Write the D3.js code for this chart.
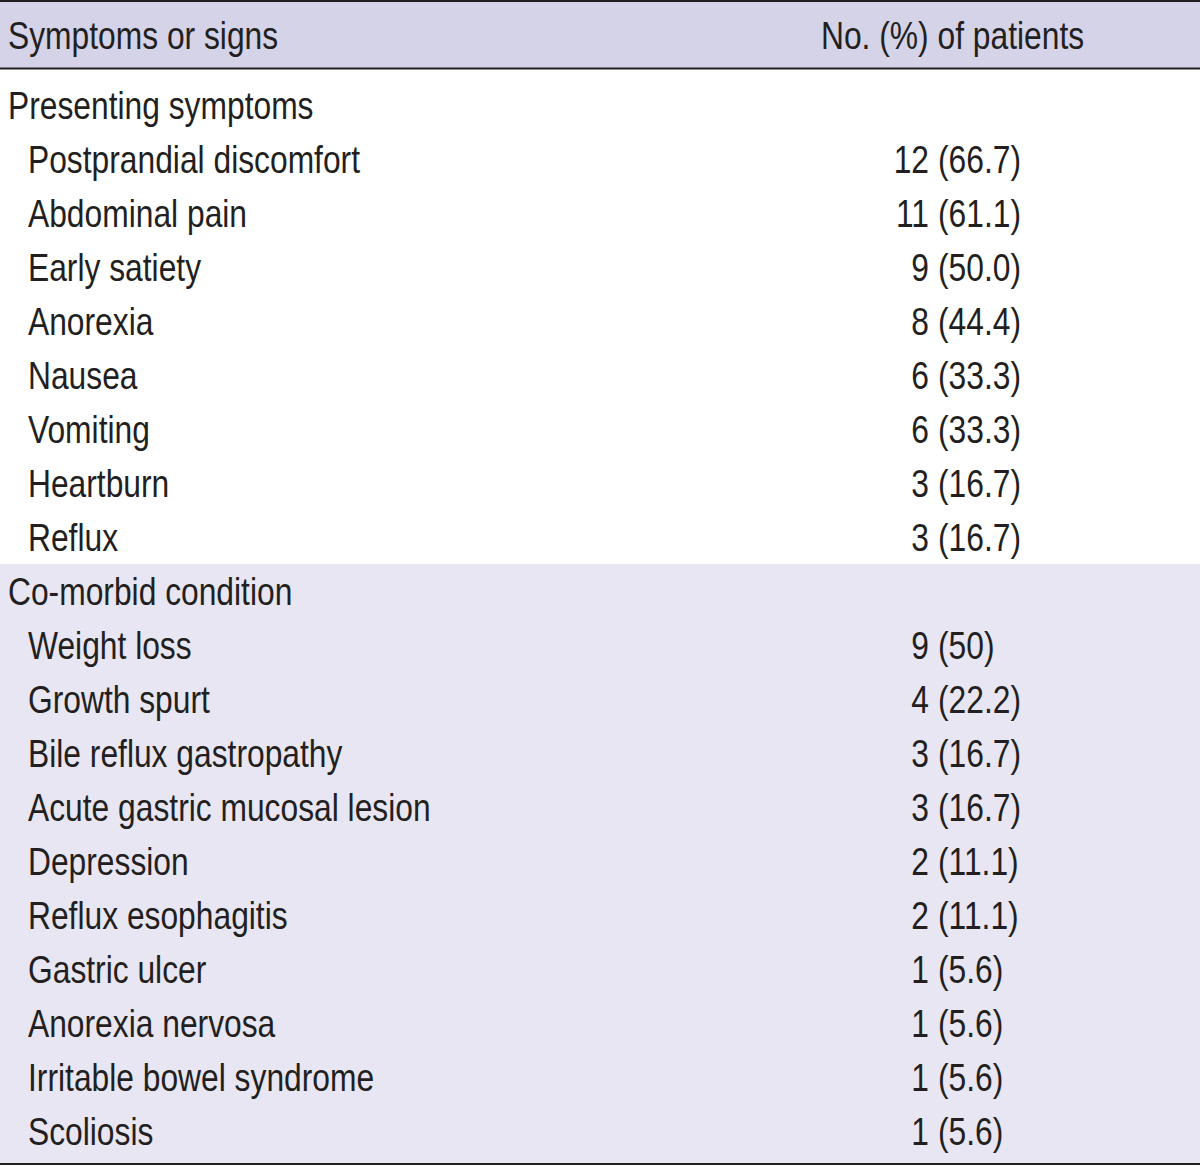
<!DOCTYPE html>
<html>
<head>
<meta charset="utf-8">
<script src="https://cdn.jsdelivr.net/npm/d3@7"></script>
<style>
  body { margin: 0; background: #fff; }
  text { font-family: "Liberation Sans Narrow", "Liberation Sans", Arial, sans-serif; font-size: 39px; fill: #231f20; }
</style>
</head>
<body>
<div id="chart"></div>
<script>
// table data
var headers = ["Symptoms or signs", "No. (%) of patients"];
var groups = ["Presenting symptoms", "Co-morbid condition"];

var presentingItems = ["Postprandial discomfort", "Abdominal pain", "Early satiety", "Anorexia",
    "Nausea", "Vomiting", "Heartburn", "Reflux"];
var presentingCounts = [12, 11, 9, 8, 6, 6, 3, 3];
var presentingPct = ["66.7", "61.1", "50.0", "44.4", "33.3", "33.3", "16.7", "16.7"];

var comorbidItems = ["Weight loss", "Growth spurt", "Bile reflux gastropathy", "Acute gastric mucosal lesion",
    "Depression", "Reflux esophagitis", "Gastric ulcer", "Anorexia nervosa", "Irritable bowel syndrome", "Scoliosis"];
var comorbidCounts = [9, 4, 3, 3, 2, 2, 1, 1, 1, 1];
var comorbidPct = ["50", "22.2", "16.7", "16.7", "11.1", "11.1", "5.6", "5.6", "5.6", "5.6"];

var width = 1200, height = 1166;
var squeeze = 0.815; // no condensed font installed, so narrow the glyphs

// flatten into rows
var rows = [];
rows.push({kind: "group", label: groups[0], sec: 0});
presentingItems.forEach(function(d, i) {
    rows.push({kind: "item", label: d, n: presentingCounts[i], pct: presentingPct[i], sec: 0});
});
rows.push({kind: "group", label: groups[1], sec: 1});
comorbidItems.forEach(function(d, i) {
    rows.push({kind: "item", label: d, n: comorbidCounts[i], pct: comorbidPct[i], sec: 1});
});

var svg = d3.select("#chart").append("svg")
    .attr("width", width)
    .attr("height", height);

var y = d3.scaleBand()
    .domain(d3.range(rows.length))
    .range([78, 78 + rows.length * 54]);

function put(sel, x, yy) {
    return sel.attr("transform", "translate(" + x + "," + yy + ") scale(" + squeeze + ",1)");
}

// header band
svg.append("rect")
    .attr("x", 0).attr("y", 1)
    .attr("width", width).attr("height", 68)
    .attr("fill", "#d4d3e7");

// second section band
var secStart = rows.findIndex(function(d) { return d.sec === 1; });
svg.append("rect")
    .attr("x", 0).attr("y", y(secStart))
    .attr("width", width).attr("height", 1163 - y(secStart))
    .attr("fill", "#e8e6f2");

// rules
[1, 68.5, 1164].forEach(function(ly) {
    svg.append("line")
        .attr("x1", 0).attr("x2", width)
        .attr("y1", ly).attr("y2", ly)
        .attr("stroke", "#231f20")
        .attr("stroke-width", 2);
});

// header text
put(svg.append("text"), 8, 49).text(headers[0]);
put(svg.append("text"), 821, 49).text(headers[1]);

var g = svg.selectAll("g.row")
    .data(rows)
    .enter().append("g")
    .attr("class", "row")
    .attr("transform", function(d, i) { return "translate(0," + (y(i) + 41) + ")"; });

g.each(function(d) {
    var row = d3.select(this);
    put(row.append("text"), d.kind === "group" ? 8 : 28, 0).text(d.label);
    if (d.kind === "item") {
        put(row.append("text"), 929, 0)
            .attr("text-anchor", "end")
            .text(d.n);
        put(row.append("text"), 938, 0)
            .text("(" + d.pct + ")");
    }
});
</script>
</body>
</html>
